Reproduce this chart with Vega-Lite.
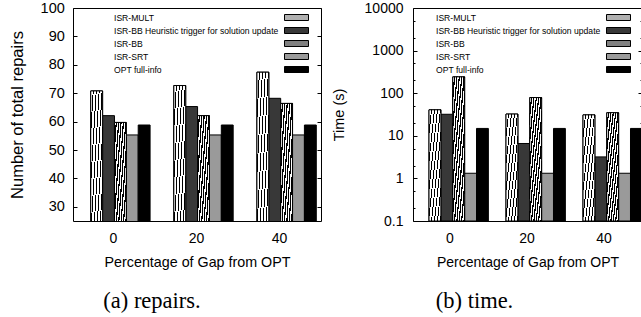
{
  "$schema": "https://vega.github.io/schema/vega-lite/v6.json",
  "padding": {"left": 9, "top": -1, "right": 0, "bottom": 0},
  "spacing": 8,
  "resolve": {"scale": {"color": "independent"}, "legend": {"color": "independent"}},
  "config": {
    "view": {"stroke": "black", "strokeWidth": 1},
    "font": "Liberation Sans",
    "axis": {"labelColor": "black", "titleColor": "black", "titleFontWeight": "normal", "domain": false, "grid": false, "tickColor": "black", "labelFont": "Liberation Sans", "titleFont": "Liberation Sans"},
    "legend": {"labelColor": "black"}
  },
  "datasets": {
    "repairs": [
      {"gap": "0", "method": "ISR-MULT", "value": 70.8},
      {"gap": "0", "method": "ISR-BB Heuristic trigger for solution update", "value": 62.1},
      {"gap": "0", "method": "ISR-BB", "value": 59.7},
      {"gap": "0", "method": "ISR-SRT", "value": 55.3},
      {"gap": "0", "method": "OPT full-info", "value": 58.8},
      {"gap": "20", "method": "ISR-MULT", "value": 72.7},
      {"gap": "20", "method": "ISR-BB Heuristic trigger for solution update", "value": 65.3},
      {"gap": "20", "method": "ISR-BB", "value": 62.1},
      {"gap": "20", "method": "ISR-SRT", "value": 55.3},
      {"gap": "20", "method": "OPT full-info", "value": 58.8},
      {"gap": "40", "method": "ISR-MULT", "value": 77.4},
      {"gap": "40", "method": "ISR-BB Heuristic trigger for solution update", "value": 68.2},
      {"gap": "40", "method": "ISR-BB", "value": 66.4},
      {"gap": "40", "method": "ISR-SRT", "value": 55.3},
      {"gap": "40", "method": "OPT full-info", "value": 58.8}
    ],
    "time": [
      {"gap": "0", "method": "ISR-MULT", "value": 40.8},
      {"gap": "0", "method": "ISR-BB Heuristic trigger for solution update", "value": 32},
      {"gap": "0", "method": "ISR-BB", "value": 242},
      {"gap": "0", "method": "ISR-SRT", "value": 1.32},
      {"gap": "0", "method": "OPT full-info", "value": 14.9},
      {"gap": "20", "method": "ISR-MULT", "value": 32.4},
      {"gap": "20", "method": "ISR-BB Heuristic trigger for solution update", "value": 6.6},
      {"gap": "20", "method": "ISR-BB", "value": 79},
      {"gap": "20", "method": "ISR-SRT", "value": 1.32},
      {"gap": "20", "method": "OPT full-info", "value": 14.9},
      {"gap": "40", "method": "ISR-MULT", "value": 31},
      {"gap": "40", "method": "ISR-BB Heuristic trigger for solution update", "value": 3.2},
      {"gap": "40", "method": "ISR-BB", "value": 34.8},
      {"gap": "40", "method": "ISR-SRT", "value": 1.32},
      {"gap": "40", "method": "OPT full-info", "value": 14.9}
    ]
  },
  "hconcat": [
    {
      "width": 248,
      "height": 213,
      "data": {"name": "repairs"},
      "title": {"text": "(a) repairs.", "orient": "bottom", "anchor": "middle", "frame": "group", "dx": -45, "offset": 20, "font": "Liberation Serif", "fontSize": 22.5, "fontWeight": "normal", "color": "black"},
      "encoding": {
        "x": {"field": "gap", "type": "ordinal", "sort": ["0", "20", "40"], "scale": {"paddingInner": 0.2857, "paddingOuter": 0.135, "align": 0.79},
              "axis": {"title": "Percentage of Gap from OPT", "labelAngle": 0, "ticks": false, "labelFontSize": 14, "labelPadding": 10.5, "labelOffset": -7, "titleFontSize": 14.3, "titlePadding": 10}},
        "xOffset": {"field": "method", "type": "nominal", "scale": {"domain": ["ISR-MULT", "ISR-BB Heuristic trigger for solution update", "ISR-BB", "ISR-SRT", "OPT full-info"], "paddingInner": 0, "paddingOuter": 0}}
      },
      "layer": [
        {
          "mark": {"type": "bar", "stroke": "black", "strokeWidth": 1, "clip": true},
          "encoding": {
            "y": {"field": "value", "type": "quantitative", "scale": {"domain": [25, 100], "zero": false, "nice": false},
                  "axis": {"title": "Number of total repairs", "values": [30, 40, 50, 60, 70, 80, 90, 100], "tickSize": -4, "labelFontSize": 14.5, "labelPadding": 12.7, "titleFontSize": 16.5, "titlePadding": 14.5}},
            "color": {"field": "method", "type": "nominal",
                      "scale": {"domain": ["ISR-MULT", "ISR-BB Heuristic trigger for solution update", "ISR-BB", "ISR-SRT", "OPT full-info"], "range": ["#b0b0b0", "#383838", "#808080", "#9a9a9a", "#000000"]},
                      "legend": {"title": null, "orient": "none", "legendX": 217, "legendY": 3, "padding": 0, "symbolType": "M-2,-0.5H2V0.5H-2Z", "symbolSize": 144, "symbolStrokeColor": "black", "symbolStrokeWidth": 1, "symbolOpacity": 1, "labelFont": "Liberation Sans", "labelFontSize": 8.6, "labelAlign": "left", "labelOffset": -189, "labelLimit": 0, "rowPadding": 1}}
          }
        },
        {
          "transform": [{"filter": "datum.method === 'ISR-MULT'"}],
          "mark": {"type": "bar", "stroke": "black", "strokeWidth": 1, "clip": true,
                   "fill": {"gradient": "linear", "x1": 0, "y1": 0, "x2": 1, "y2": 1, "stops": [
                     {"offset": 0, "color": "#fff"}, {"offset": 0.085, "color": "#fff"}, {"offset": 0.085, "color": "#000"}, {"offset": 0.125, "color": "#000"},
                     {"offset": 0.125, "color": "#fff"}, {"offset": 0.21, "color": "#fff"}, {"offset": 0.21, "color": "#000"}, {"offset": 0.25, "color": "#000"},
                     {"offset": 0.25, "color": "#fff"}, {"offset": 0.335, "color": "#fff"}, {"offset": 0.335, "color": "#000"}, {"offset": 0.375, "color": "#000"},
                     {"offset": 0.375, "color": "#fff"}, {"offset": 0.46, "color": "#fff"}, {"offset": 0.46, "color": "#000"}, {"offset": 0.5, "color": "#000"},
                     {"offset": 0.5, "color": "#fff"}, {"offset": 0.585, "color": "#fff"}, {"offset": 0.585, "color": "#000"}, {"offset": 0.625, "color": "#000"},
                     {"offset": 0.625, "color": "#fff"}, {"offset": 0.71, "color": "#fff"}, {"offset": 0.71, "color": "#000"}, {"offset": 0.75, "color": "#000"},
                     {"offset": 0.75, "color": "#fff"}, {"offset": 0.835, "color": "#fff"}, {"offset": 0.835, "color": "#000"}, {"offset": 0.875, "color": "#000"},
                     {"offset": 0.875, "color": "#fff"}, {"offset": 0.96, "color": "#fff"}, {"offset": 0.96, "color": "#000"}, {"offset": 1, "color": "#000"}]}},
          "encoding": {
            "y": {"field": "value", "type": "quantitative", "scale": {"domain": [25, 100], "zero": false, "nice": false}, "axis": null}
          }
        },
        {
          "transform": [{"filter": "datum.method === 'ISR-BB'"}],
          "mark": {"type": "bar", "stroke": "black", "strokeWidth": 1, "clip": true,
                   "fill": {"gradient": "linear", "x1": 0, "y1": 0, "x2": 1, "y2": 1, "stops": [
                     {"offset": 0, "color": "#fff"}, {"offset": 0.05, "color": "#fff"}, {"offset": 0.05, "color": "#000"}, {"offset": 0.1, "color": "#000"},
                     {"offset": 0.1, "color": "#fff"}, {"offset": 0.15, "color": "#fff"}, {"offset": 0.15, "color": "#000"}, {"offset": 0.2, "color": "#000"},
                     {"offset": 0.2, "color": "#fff"}, {"offset": 0.25, "color": "#fff"}, {"offset": 0.25, "color": "#000"}, {"offset": 0.3, "color": "#000"},
                     {"offset": 0.3, "color": "#fff"}, {"offset": 0.35, "color": "#fff"}, {"offset": 0.35, "color": "#000"}, {"offset": 0.4, "color": "#000"},
                     {"offset": 0.4, "color": "#fff"}, {"offset": 0.45, "color": "#fff"}, {"offset": 0.45, "color": "#000"}, {"offset": 0.5, "color": "#000"},
                     {"offset": 0.5, "color": "#fff"}, {"offset": 0.55, "color": "#fff"}, {"offset": 0.55, "color": "#000"}, {"offset": 0.6, "color": "#000"},
                     {"offset": 0.6, "color": "#fff"}, {"offset": 0.65, "color": "#fff"}, {"offset": 0.65, "color": "#000"}, {"offset": 0.7, "color": "#000"},
                     {"offset": 0.7, "color": "#fff"}, {"offset": 0.75, "color": "#fff"}, {"offset": 0.75, "color": "#000"}, {"offset": 0.8, "color": "#000"},
                     {"offset": 0.8, "color": "#fff"}, {"offset": 0.85, "color": "#fff"}, {"offset": 0.85, "color": "#000"}, {"offset": 0.9, "color": "#000"},
                     {"offset": 0.9, "color": "#fff"}, {"offset": 0.95, "color": "#fff"}, {"offset": 0.95, "color": "#000"}, {"offset": 1, "color": "#000"}]}},
          "encoding": {
            "y": {"field": "value", "type": "quantitative", "scale": {"domain": [25, 100], "zero": false, "nice": false}, "axis": null}
          }
        },
        {
          "mark": {"type": "point", "opacity": 0},
          "encoding": {
            "y": {"field": "value", "type": "quantitative", "scale": {"domain": [25, 100], "zero": false, "nice": false},
                  "axis": {"orient": "right", "title": null, "labels": false, "values": [30, 40, 50, 60, 70, 80, 90, 100], "tickSize": -4}}
          }
        }
      ],
      "resolve": {"axis": {"y": "independent"}}
    },
    {
      "width": 229,
      "height": 213,
      "data": {"name": "time"},
      "title": {"text": "(b) time.", "orient": "bottom", "anchor": "middle", "frame": "group", "dx": -53, "offset": 20, "font": "Liberation Serif", "fontSize": 22.5, "fontWeight": "normal", "color": "black"},
      "encoding": {
        "x": {"field": "gap", "type": "ordinal", "sort": ["0", "20", "40"], "scale": {"paddingInner": 0.2857, "paddingOuter": 0.13, "align": 0.8},
              "axis": {"title": "Percentage of Gap from OPT", "labelAngle": 0, "ticks": false, "labelFontSize": 14, "labelPadding": 10.5, "labelOffset": -6.5, "titleFontSize": 14, "titlePadding": 10}},
        "xOffset": {"field": "method", "type": "nominal", "scale": {"domain": ["ISR-MULT", "ISR-BB Heuristic trigger for solution update", "ISR-BB", "ISR-SRT", "OPT full-info"], "paddingInner": 0, "paddingOuter": 0}}
      },
      "layer": [
        {
          "mark": {"type": "bar", "stroke": "black", "strokeWidth": 1, "clip": true},
          "encoding": {
            "y": {"field": "value", "type": "quantitative", "scale": {"type": "log", "domain": [0.1, 10000], "nice": false},
                  "axis": {"title": "Time (s)", "values": [0.1, 1, 10, 100, 1000, 10000], "format": "~g", "tickSize": -4, "labelFontSize": 14, "labelPadding": 14, "titleFontSize": 14.5, "titlePadding": 18}},
            "y2": {"datum": 0.1},
            "color": {"field": "method", "type": "nominal",
                      "scale": {"domain": ["ISR-MULT", "ISR-BB Heuristic trigger for solution update", "ISR-BB", "ISR-SRT", "OPT full-info"], "range": ["#b0b0b0", "#383838", "#808080", "#9a9a9a", "#000000"]},
                      "legend": {"title": null, "orient": "none", "legendX": 199, "legendY": 3, "padding": 0, "symbolType": "M-2,-0.5H2V0.5H-2Z", "symbolSize": 144, "symbolStrokeColor": "black", "symbolStrokeWidth": 1, "symbolOpacity": 1, "labelFont": "Liberation Sans", "labelFontSize": 8.6, "labelAlign": "left", "labelOffset": -189, "labelLimit": 0, "rowPadding": 1}}
          }
        },
        {
          "transform": [{"filter": "datum.method === 'ISR-MULT'"}],
          "mark": {"type": "bar", "stroke": "black", "strokeWidth": 1, "clip": true,
                   "fill": {"gradient": "linear", "x1": 0, "y1": 0, "x2": 1, "y2": 1, "stops": [
                     {"offset": 0, "color": "#fff"}, {"offset": 0.085, "color": "#fff"}, {"offset": 0.085, "color": "#000"}, {"offset": 0.125, "color": "#000"},
                     {"offset": 0.125, "color": "#fff"}, {"offset": 0.21, "color": "#fff"}, {"offset": 0.21, "color": "#000"}, {"offset": 0.25, "color": "#000"},
                     {"offset": 0.25, "color": "#fff"}, {"offset": 0.335, "color": "#fff"}, {"offset": 0.335, "color": "#000"}, {"offset": 0.375, "color": "#000"},
                     {"offset": 0.375, "color": "#fff"}, {"offset": 0.46, "color": "#fff"}, {"offset": 0.46, "color": "#000"}, {"offset": 0.5, "color": "#000"},
                     {"offset": 0.5, "color": "#fff"}, {"offset": 0.585, "color": "#fff"}, {"offset": 0.585, "color": "#000"}, {"offset": 0.625, "color": "#000"},
                     {"offset": 0.625, "color": "#fff"}, {"offset": 0.71, "color": "#fff"}, {"offset": 0.71, "color": "#000"}, {"offset": 0.75, "color": "#000"},
                     {"offset": 0.75, "color": "#fff"}, {"offset": 0.835, "color": "#fff"}, {"offset": 0.835, "color": "#000"}, {"offset": 0.875, "color": "#000"},
                     {"offset": 0.875, "color": "#fff"}, {"offset": 0.96, "color": "#fff"}, {"offset": 0.96, "color": "#000"}, {"offset": 1, "color": "#000"}]}},
          "encoding": {
            "y": {"field": "value", "type": "quantitative", "scale": {"type": "log", "domain": [0.1, 10000], "nice": false}, "axis": null},
            "y2": {"datum": 0.1}
          }
        },
        {
          "transform": [{"filter": "datum.method === 'ISR-BB'"}],
          "mark": {"type": "bar", "stroke": "black", "strokeWidth": 1, "clip": true,
                   "fill": {"gradient": "linear", "x1": 0, "y1": 0, "x2": 1, "y2": 1, "stops": [
                     {"offset": 0, "color": "#fff"}, {"offset": 0.05, "color": "#fff"}, {"offset": 0.05, "color": "#000"}, {"offset": 0.1, "color": "#000"},
                     {"offset": 0.1, "color": "#fff"}, {"offset": 0.15, "color": "#fff"}, {"offset": 0.15, "color": "#000"}, {"offset": 0.2, "color": "#000"},
                     {"offset": 0.2, "color": "#fff"}, {"offset": 0.25, "color": "#fff"}, {"offset": 0.25, "color": "#000"}, {"offset": 0.3, "color": "#000"},
                     {"offset": 0.3, "color": "#fff"}, {"offset": 0.35, "color": "#fff"}, {"offset": 0.35, "color": "#000"}, {"offset": 0.4, "color": "#000"},
                     {"offset": 0.4, "color": "#fff"}, {"offset": 0.45, "color": "#fff"}, {"offset": 0.45, "color": "#000"}, {"offset": 0.5, "color": "#000"},
                     {"offset": 0.5, "color": "#fff"}, {"offset": 0.55, "color": "#fff"}, {"offset": 0.55, "color": "#000"}, {"offset": 0.6, "color": "#000"},
                     {"offset": 0.6, "color": "#fff"}, {"offset": 0.65, "color": "#fff"}, {"offset": 0.65, "color": "#000"}, {"offset": 0.7, "color": "#000"},
                     {"offset": 0.7, "color": "#fff"}, {"offset": 0.75, "color": "#fff"}, {"offset": 0.75, "color": "#000"}, {"offset": 0.8, "color": "#000"},
                     {"offset": 0.8, "color": "#fff"}, {"offset": 0.85, "color": "#fff"}, {"offset": 0.85, "color": "#000"}, {"offset": 0.9, "color": "#000"},
                     {"offset": 0.9, "color": "#fff"}, {"offset": 0.95, "color": "#fff"}, {"offset": 0.95, "color": "#000"}, {"offset": 1, "color": "#000"}]}},
          "encoding": {
            "y": {"field": "value", "type": "quantitative", "scale": {"type": "log", "domain": [0.1, 10000], "nice": false}, "axis": null},
            "y2": {"datum": 0.1}
          }
        },
        {
          "mark": {"type": "point", "opacity": 0},
          "encoding": {
            "y": {"field": "value", "type": "quantitative", "scale": {"type": "log", "domain": [0.1, 10000], "nice": false},
                  "axis": {"orient": "right", "title": null, "labels": false, "values": [0.1, 1, 10, 100, 1000, 10000], "tickSize": -4}}
          }
        },
        {
          "mark": {"type": "point", "opacity": 0},
          "encoding": {
            "y": {"field": "value", "type": "quantitative", "scale": {"type": "log", "domain": [0.1, 10000], "nice": false},
                  "axis": {"orient": "left", "title": null, "labels": false, "values": [0.2, 0.5, 2, 5, 20, 50, 200, 500, 2000, 5000], "tickSize": -2}}
          }
        },
        {
          "mark": {"type": "point", "opacity": 0},
          "encoding": {
            "y": {"field": "value", "type": "quantitative", "scale": {"type": "log", "domain": [0.1, 10000], "nice": false},
                  "axis": {"orient": "right", "title": null, "labels": false, "values": [0.2, 0.5, 2, 5, 20, 50, 200, 500, 2000, 5000], "tickSize": -2}}
          }
        }
      ],
      "resolve": {"axis": {"y": "independent"}}
    }
  ]
}
